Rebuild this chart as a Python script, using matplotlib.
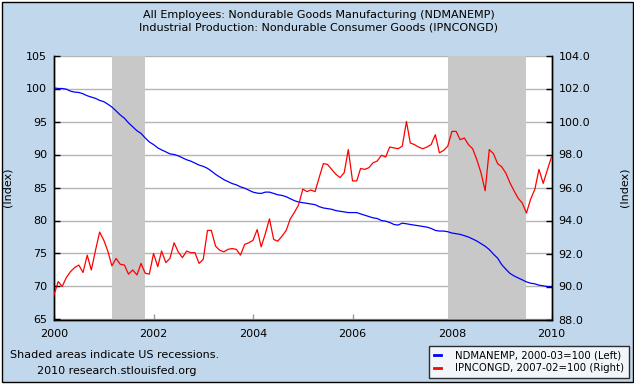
import matplotlib
matplotlib.use("Agg")
import matplotlib.pyplot as plt
import matplotlib.dates as mdates
from matplotlib.lines import Line2D
from matplotlib.patches import Rectangle
import pandas as pd

# ---------------- data (monthly, 2000-01 .. 2010-01) ----------------
start_month = "2000-01-01"

ndmanemp = [
    # 2000
    100.1, 100.0, 100.0, 99.9, 99.6, 99.45, 99.4, 99.2, 98.9, 98.7, 98.5, 98.2,
    # 2001
    98.0, 97.6, 97.2, 96.6, 96.0, 95.5, 94.8, 94.2, 93.6, 93.2, 92.5, 91.9,
    # 2002
    91.5, 91.0, 90.7, 90.4, 90.1, 90.0, 89.8, 89.5, 89.2, 89.0, 88.7, 88.4,
    # 2003
    88.2, 87.9, 87.5, 87.0, 86.6, 86.2, 85.9, 85.6, 85.4, 85.1, 84.9, 84.6,
    # 2004
    84.3, 84.15, 84.1, 84.3, 84.3, 84.1, 83.9, 83.8, 83.6, 83.3, 83.0, 82.8,
    # 2005
    82.7, 82.6, 82.5, 82.4, 82.1, 81.9, 81.8, 81.7, 81.5, 81.4, 81.3, 81.2,
    # 2006
    81.2, 81.2, 81.0, 80.8, 80.6, 80.4, 80.3, 80.0, 79.9, 79.7, 79.4, 79.3,
    # 2007
    79.6, 79.5, 79.4, 79.3, 79.2, 79.1, 79.0, 78.8, 78.5, 78.4, 78.4, 78.3,
    # 2008
    78.1, 78.0, 77.9, 77.7, 77.5, 77.2, 76.9, 76.5, 76.1, 75.6, 74.9, 74.3,
    # 2009
    73.3, 72.6, 72.0, 71.6, 71.3, 71.0, 70.7, 70.5, 70.4, 70.2, 70.1, 70.0,
    # 2010
    70.0,
]

ipncongd = [
    # 2000
    89.5, 90.3, 90.0, 90.55, 90.9, 91.15, 91.3, 90.85, 91.9, 91.0, 92.2, 93.3,
    # 2001
    92.8, 92.1, 91.25, 91.7, 91.35, 91.3, 90.75, 91.0, 90.7, 91.4, 90.8, 90.75,
    # 2002
    92.0, 91.2, 92.15, 91.45, 91.7, 92.65, 92.1, 91.75, 92.15, 92.05, 92.05, 91.4,
    # 2003
    91.65, 93.4, 93.4, 92.45, 92.2, 92.1, 92.25, 92.3, 92.25, 91.9, 92.55, 92.65,
    # 2004
    92.8, 93.45, 92.4, 93.2, 94.1, 92.85, 92.75, 93.05, 93.4, 94.1, 94.5, 94.95,
    # 2005
    95.9, 95.75, 95.85, 95.75, 96.6, 97.45, 97.4, 97.1, 96.8, 96.6, 96.9, 98.3,
    # 2006
    96.4, 96.4, 97.15, 97.1, 97.2, 97.5, 97.6, 97.95, 97.85, 98.45, 98.4, 98.35,
    # 2007
    98.5, 100.0, 98.7, 98.6, 98.45, 98.35, 98.45, 98.6, 99.2, 98.1, 98.25, 98.5,
    # 2008
    99.4, 99.4, 98.9, 99.0, 98.6, 98.35, 97.7, 96.9, 95.8, 98.3, 98.05, 97.45,
    # 2009
    97.25, 96.85, 96.3, 95.8, 95.35, 95.05, 94.45, 95.3, 95.9, 97.1, 96.25, 97.05,
    # 2010
    97.85,
]

recessions = [("2001-03-01", "2001-11-01"), ("2007-12-01", "2009-07-01")]

title_lines = ["All Employees: Nondurable Goods Manufacturing (NDMANEMP)",
               "Industrial Production: Nondurable Consumer Goods (IPNCONGD)"]
legend_labels = ["NDMANEMP, 2000-03=100 (Left)", "IPNCONGD, 2007-02=100 (Right)"]
left_ticks = [65, 70, 75, 80, 85, 90, 95, 100, 105]
right_ticks = [88, 90, 92, 94, 96, 98, 100, 102, 104]
year_ticks = [2000, 2002, 2004, 2006, 2008, 2010]

# ---------------- figure ----------------
W, H = 634, 385
BG = "#C1D7EB"
fig = plt.figure(figsize=(W / 100, H / 100), dpi=100, facecolor="white")
fig.patches.append(Rectangle((1.5 / W, 3.5 / H), 631 / W, 380 / H,
                             transform=fig.transFigure, facecolor=BG,
                             edgecolor="black", linewidth=1.0, zorder=-10))

ax = fig.add_axes([54 / W, 1 - 319.5 / H, 497.5 / W, 264 / H])
ax.set_facecolor("white")
ax2 = ax.twinx()

dates = pd.date_range(start_month, periods=len(ndmanemp), freq="MS")

ax.set_axisbelow(True)
ax.yaxis.grid(True, color="#B4B4B4", lw=1.0)
for a, b in recessions:
    ax.axvspan(pd.Timestamp(a), pd.Timestamp(b), color="#C8C8C8", lw=0, zorder=1)

ax.set_ylim(left_ticks[0], left_ticks[-1])
ax.set_yticks(left_ticks)

ax.plot(dates, ndmanemp, color="#0000FF", lw=0.9, zorder=3)
ax2.plot(dates, ipncongd, color="#FF0000", lw=0.9, zorder=3)

ax2.set_ylim(right_ticks[0], right_ticks[-1])
ax2.set_yticks(right_ticks)
ax2.set_yticklabels([f"{v:.1f}" for v in right_ticks])

ax.set_xlim(pd.Timestamp("2000-01-01"), pd.Timestamp("2010-01-01"))
ax.set_xticks([pd.Timestamp(f"{y}-01-01") for y in year_ticks])
ax.xaxis.set_major_formatter(mdates.DateFormatter("%Y"))

for a in (ax, ax2):
    a.spines["top"].set_visible(False)
    for s in ("left", "right", "bottom"):
        a.spines[s].set_color("black")
        a.spines[s].set_linewidth(1.0)

ax.tick_params(axis="y", direction="in", length=4, width=1, color="black",
               labelsize=8, pad=5)
ax2.tick_params(axis="y", direction="in", length=4, width=1, color="black",
                labelsize=8, pad=5)
ax.tick_params(axis="x", direction="in", length=4, width=1, color="#999999",
               labelsize=8, pad=7)

ax.set_ylabel("(Index)", fontsize=8)
ax.yaxis.set_label_coords((13 - 54) / 497.5, 0.5)
ax2.set_ylabel("(Index)", fontsize=8)
ax2.yaxis.set_label_coords((619 - 54) / 497.5, 0.5)

fig.text(318.5 / W, 1 - 15 / H, title_lines[0], ha="center", va="center", fontsize=8)
fig.text(318.5 / W, 1 - 28 / H, title_lines[1], ha="center", va="center", fontsize=8)

fig.text(10 / W, 1 - 355 / H, "Shaded areas indicate US recessions.",
         ha="left", va="center", fontsize=8)
fig.text(37 / W, 1 - 371 / H, "2010 research.stlouisfed.org",
         ha="left", va="center", fontsize=8)

handles = [Line2D([], [], color="#0000FF", lw=2),
           Line2D([], [], color="#FF0000", lw=2)]
leg = fig.legend(handles, legend_labels, loc="lower right",
                 bbox_to_anchor=(629 / W, 1 - 378 / H), fontsize=7.3,
                 frameon=True, fancybox=False, edgecolor="black",
                 handlelength=0.7, handletextpad=1.4, labelspacing=0.25,
                 borderpad=0.45, borderaxespad=0)
leg.get_frame().set_linewidth(1.0)
leg.get_frame().set_facecolor("white")

fig.savefig("out.png", dpi=100, facecolor=fig.get_facecolor())
